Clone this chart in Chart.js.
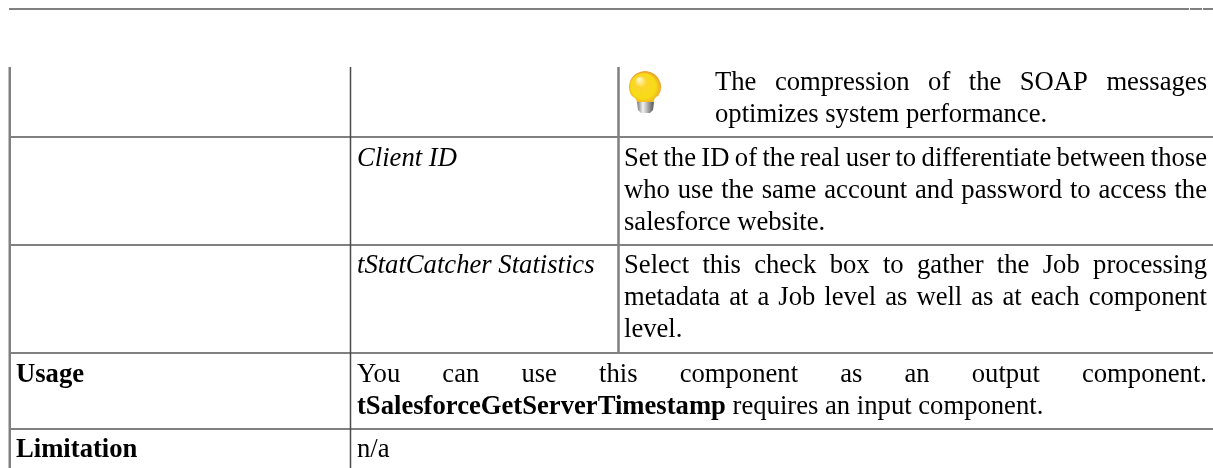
<!DOCTYPE html>
<html>
<head>
<meta charset="utf-8">
<script src="https://cdn.jsdelivr.net/npm/chart.js@4"></script>
<style>
html, body { margin: 0; padding: 0; background: #fff; overflow: hidden; }
canvas { display: block; filter: blur(0.4px); }
</style>
</head>
<body>
<canvas id="myChart" width="1213" height="468"></canvas>
<script>
// table rules, in page pixels
const topRules = [
    [[9, 9], [1189, 9]],
    [[1190, 9], [1202, 9]],
    [[1203, 9], [1213, 9]]
];
const grayColumnRules = [
    [[9.75, 67], [9.75, 468]],
    [[618.5, 67], [618.5, 353]]
];
const darkColumnRule = [[350.5, 67], [350.5, 468]];
const rowRules = [137, 245, 353, 429];

// [x, baseline, right edge if justified, [[text, style], ...]]
const textLines = [
    [715, 90, 1207, [['The compression of the SOAP messages', '']]],
    [715, 122, 0, [['optimizes system performance.', '']]],
    [357, 166, 0, [['Client ID', 'italic']]],
    [624, 166, 1207, [['Set the ID of the real user to differentiate between those', '']]],
    [624, 198, 1207, [['who use the same account and password to access the', '']]],
    [624, 230, 0, [['salesforce website.', '']]],
    [357, 273, 0, [['tStatCatcher Statistics', 'italic']]],
    [624, 273, 1207, [['Select this check box to gather the Job processing', '']]],
    [624, 305, 1207, [['metadata at a Job level as well as at each component', '']]],
    [624, 337, 0, [['level.', '']]],
    [16, 382, 0, [['Usage', 'bold']]],
    [357, 382, 1207, [['You can use this component as an output component.', '']]],
    [357, 414, 0, [['tSalesforceGetServerTimestamp', 'bold'], [' requires an input component.', '']]],
    [16, 457, 0, [['Limitation', 'bold']]],
    [357, 457, 0, [['n/a', '']]]
];
const fontSize = 26.65;
const ruleColor = '#808080';

function toPoints(line) {
    return line.map(p => ({ x: p[0], y: p[1] }));
}

const datasets = [];
for (const line of topRules) {
    datasets.push({ data: toPoints(line), borderColor: ruleColor, borderWidth: 2 });
}
for (const line of grayColumnRules) {
    datasets.push({ data: toPoints(line), borderColor: ruleColor, borderWidth: 2.5 });
}
datasets.push({ data: toPoints(darkColumnRule), borderColor: '#4a4a4a', borderWidth: 1.5 });
for (const y of rowRules) {
    datasets.push({ data: toPoints([[9, y], [1213, y]]), borderColor: ruleColor, borderWidth: 2 });
}

function fontFor(style) {
    return `${style} ${fontSize}px "Liberation Serif"`;
}

function drawBulb(ctx, bx, by) {
    const glass = ctx.createRadialGradient(bx - 6, by - 8, 1, bx, by + 2, 17);
    glass.addColorStop(0, '#fff6c4');
    glass.addColorStop(0.3, '#fbd52a');
    glass.addColorStop(0.7, '#f8dc14');
    glass.addColorStop(1, '#eba030');
    ctx.fillStyle = glass;
    ctx.beginPath();
    ctx.arc(bx, by, 16, Math.PI * 0.82, Math.PI * 0.18);
    ctx.quadraticCurveTo(bx + 9, by + 11, bx + 8.5, by + 15);
    ctx.lineTo(bx - 8, by + 15);
    ctx.quadraticCurveTo(bx - 9, by + 11, bx - 13, by + 9);
    ctx.closePath();
    ctx.fill();
    const base = ctx.createLinearGradient(bx - 8, 0, bx + 9, 0);
    base.addColorStop(0, '#777');
    base.addColorStop(0.35, '#f2f2f2');
    base.addColorStop(0.7, '#999');
    base.addColorStop(1, '#555');
    ctx.fillStyle = base;
    ctx.beginPath();
    ctx.moveTo(bx - 8, by + 15);
    ctx.lineTo(bx + 9, by + 15);
    ctx.lineTo(bx + 8, by + 23);
    ctx.lineTo(bx + 5, by + 26);
    ctx.lineTo(bx - 4, by + 26);
    ctx.lineTo(bx - 7, by + 23);
    ctx.closePath();
    ctx.fill();
}

const tablePlugin = {
    id: 'tableText',
    afterDatasetsDraw(chart) {
        const ctx = chart.ctx;
        const xs = chart.scales.x;
        const ys = chart.scales.y;
        ctx.save();
        ctx.fillStyle = '#000';
        ctx.textBaseline = 'alphabetic';
        ctx.textAlign = 'left';
        for (const [x, baseline, right, runs] of textLines) {
            let px = xs.getPixelForValue(x);
            const py = ys.getPixelForValue(baseline);
            if (right) {
                // justified line, spread the words over the cell
                const words = runs[0][0].split(' ');
                ctx.font = fontFor(runs[0][1]);
                const used = words.reduce((sum, w) => sum + ctx.measureText(w).width, 0);
                const gap = (xs.getPixelForValue(right) - px - used) / (words.length - 1);
                for (const w of words) {
                    ctx.fillText(w, px, py);
                    px += ctx.measureText(w).width + gap;
                }
            } else {
                for (const [text, style] of runs) {
                    ctx.font = fontFor(style);
                    ctx.fillText(text, px, py);
                    px += ctx.measureText(text).width;
                }
            }
        }
        drawBulb(ctx, xs.getPixelForValue(645), ys.getPixelForValue(87));
        ctx.restore();
    }
};

new Chart(document.getElementById('myChart').getContext('2d'), {
    type: 'scatter',
    data: { datasets: datasets },
    options: {
        responsive: false,
        animation: false,
        layout: { padding: 0 },
        showLine: true,
        elements: { point: { radius: 0 } },
        plugins: { legend: { display: false }, tooltip: { enabled: false } },
        scales: {
            x: { type: 'linear', display: false, min: 0, max: 1213 },
            y: { type: 'linear', display: false, min: 0, max: 468, reverse: true }
        }
    },
    plugins: [tablePlugin]
});
</script>
</body>
</html>
